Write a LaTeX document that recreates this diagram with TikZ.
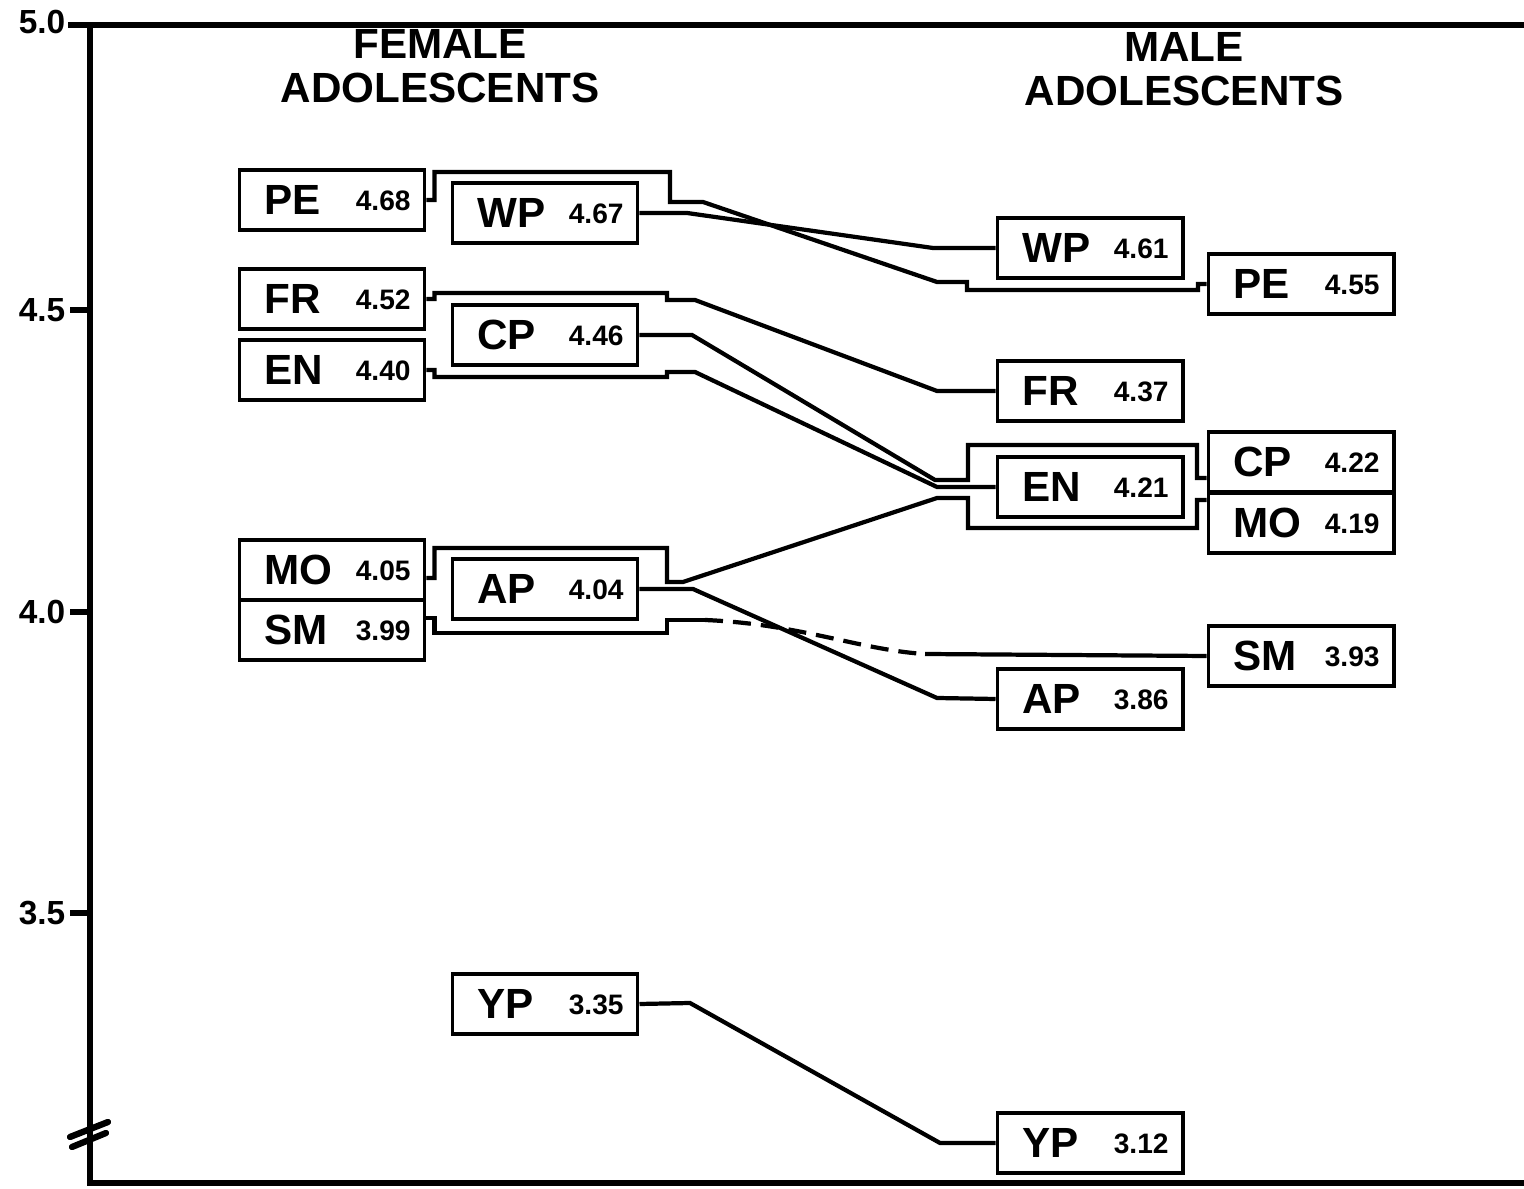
\documentclass[tikz,border=0pt]{standalone}
\usepackage{fontspec}
\setmainfont{Liberation Sans}
\usepackage{tikz}
\tikzstyle{catbox}=[draw, line width=1.1pt, inner sep=0pt, minimum width=1.85cm, minimum height=0.6cm]
\tikzstyle{link}=[line width=1.2pt]
\tikzstyle{axis}=[line width=1.8pt]
\tikzstyle{ticklbl}=[anchor=east, inner sep=0pt, font=\fontsize{9.5}{10}\selectfont\bfseries]
\tikzstyle{title}=[align=center, font=\fontsize{12}{12.5}\selectfont\bfseries]
\newcommand{\cat}[2]{\makebox[1.85cm]{\hspace{0.25cm}\fontsize{12}{12}\selectfont #1\hfill\raisebox{0.4mm}{\fontsize{8}{8}\selectfont #2}\hspace{0.14cm}}}

\begin{document}
\begin{tikzpicture}[x=0.01cm, y=-0.01cm, font=\bfseries]
        \useasboundingbox (0,0) rectangle (1524,1189);
        % axis
        \node[ticklbl] (t50) at (66,22) {5.0};
        \node[ticklbl] (t45) at (66,310) {4.5};
        \node[ticklbl] (t40) at (66,612) {4.0};
        \node[ticklbl] (t35) at (66,913) {3.5};
        \draw[axis] (68,25) -- (1524,25);
        \draw[axis] (90,25) -- (90,1183) -- (1524,1183);
        \draw[axis] (70,310) -- (90,310);
        \draw[axis] (70,612) -- (90,612);
        \draw[axis] (70,913) -- (90,913);
        \draw[axis, line cap=round] (70,1137) -- (108,1122);
        \draw[axis, line cap=round] (72,1147) -- (106,1133);
        \node[title] (ftitle) at (440,66) {FEMALE\\ADOLESCENTS};
        \node[title] (mtitle) at (1184,69) {MALE\\ADOLESCENTS};
        % female
        \node[catbox] (fPE) at (332,200) {\cat{PE}{4.68}};
        \node[catbox] (fFR) at (332,299) {\cat{FR}{4.52}};
        \node[catbox] (fEN) at (332,370) {\cat{EN}{4.40}};
        \node[catbox] (fMO) at (332,570) {\cat{MO}{4.05}};
        \node[catbox] (fSM) at (332,630) {\cat{SM}{3.99}};
        \node[catbox] (fWP) at (545,213) {\cat{WP}{4.67}};
        \node[catbox] (fCP) at (545,335) {\cat{CP}{4.46}};
        \node[catbox] (fAP) at (545,589) {\cat{AP}{4.04}};
        \node[catbox] (fYP) at (545,1004) {\cat{YP}{3.35}};
        % male
        \node[catbox] (mWP) at (1090,248) {\cat{WP}{4.61}};
        \node[catbox] (mFR) at (1090,391) {\cat{FR}{4.37}};
        \node[catbox] (mEN) at (1090,487) {\cat{EN}{4.21}};
        \node[catbox] (mAP) at (1090,699) {\cat{AP}{3.86}};
        \node[catbox] (mYP) at (1090,1143) {\cat{YP}{3.12}};
        \node[catbox] (mPE) at (1301,284) {\cat{PE}{4.55}};
        \node[catbox] (mCP) at (1301,462) {\cat{CP}{4.22}};
        \node[catbox] (mMO) at (1301,523) {\cat{MO}{4.19}};
        \node[catbox] (mSM) at (1301,656) {\cat{SM}{3.93}};
        % links
        \draw[link] (fPE.east) -- ++(8,0) |- (670,172) |- (703,202) -- (937,282) -| (967,290) -| (1198,284) -- (mPE.west);
        \draw[link] (fWP.east) -- (687,213) -- (933,248) -- (mWP.west);
        \draw[link] (fFR.east) -- ++(8,0) |- (667,293) |- (695,300) -- (937,391) -- (mFR.west);
        \draw[link] (fCP.east) -- (692,335) -- (935,480) -| (968,445) -| (1197,478) -- ([yshift=-0.16cm]mCP.west);
        \draw[link] (fEN.east) -- ++(8,0) |- (667,377) |- (695,372) -- (937,487) -- (mEN.west);
        \draw[link] ([yshift=-0.08cm]fMO.east) -- ++(8,0) |- (667,548) |- (683,582) -- (937,498) -| (968,528) -| (1197,500) -- ([yshift=0.23cm]mMO.west);
        \draw[link] (fAP.east) -- (693,589) -- (937,698) -- (mAP.west);
        \coordinate (smA) at (705,620);
        \coordinate (smB) at (925,654);
        \draw[link] ([yshift=0.12cm]fSM.east) -- ++(8,0) |- (667,633) |- (smA);
        \draw[link, dash pattern=on 0.18cm off 0.1cm] (smA) .. controls (800,624) and (860,650) .. (smB);
        \draw[link] (smB) -- (mSM.west);
        \draw[link] (fYP.east) -- (690,1003) -- (940,1143) -- (mYP.west);
    \end{tikzpicture}
\end{document}
